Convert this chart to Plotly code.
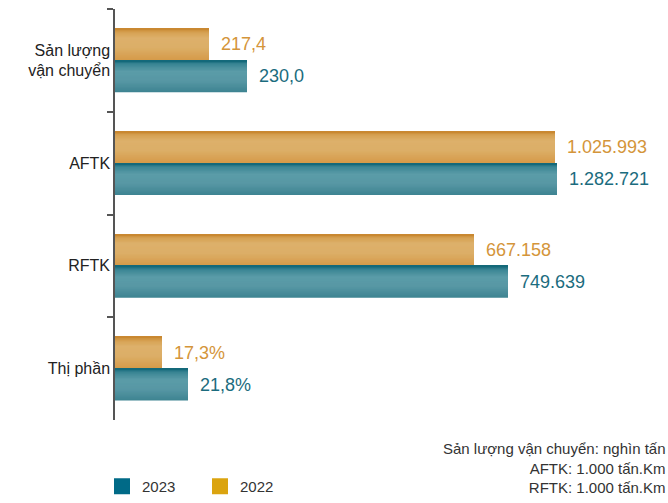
import plotly.graph_objects as go

# categories (top to bottom)
categories = ["Sản lượng<br>vận chuyển", "AFTK", "RFTK", "Thị phần"]

# bar lengths as drawn in the chart (relative display length, not to scale with values)
len_2022 = [94, 440, 359, 47]
len_2023 = [132, 442, 393, 73]

# value labels
labels_2022 = ["217,4", "1.025.993", "667.158", "17,3%"]
labels_2023 = ["230,0", "1.282.721", "749.639", "21,8%"]

units_note = ["Sản lượng vận chuyển: nghìn tấn", "AFTK: 1.000 tấn.Km", "RFTK: 1.000 tấn.Km"]

FONT = "Liberation Sans, Arial, sans-serif"
BAR_H = 0.31  # in category units
STEPS = 24

# vertical gradient stops (position from top, colour)
grad_2022 = [(0.0, "#C6832A"), (0.12, "#D6A152"), (0.3, "#DDB06B"), (0.6, "#DCAE67"), (1.0, "#D59A48")]
grad_2023 = [(0.0, "#0C6375"), (0.12, "#3A8594"), (0.35, "#5B9CA8"), (0.65, "#5797A4"), (1.0, "#3E8391")]


def color_at(stops, t):
    for (p0, c0), (p1, c1) in zip(stops, stops[1:]):
        if p0 <= t <= p1:
            f = (t - p0) / (p1 - p0)
            a = [int(c0[i:i + 2], 16) for i in (1, 3, 5)]
            b = [int(c1[i:i + 2], 16) for i in (1, 3, 5)]
            return "rgb(%d,%d,%d)" % tuple(round(x + (y - x) * f) for x, y in zip(a, b))
    return stops[-1][1]


fig = go.Figure()


def add_gradient_bars(lengths, texts, stops, offset, text_color):
    # nested layers all anchored at the bar top, each one shorter, so no seams
    for k in range(STEPS):
        t = (STEPS - 1 - k + 0.5) / STEPS
        w = BAR_H * (STEPS - k) / STEPS
        fig.add_trace(go.Bar(
            y=categories, x=lengths, orientation="h",
            width=w, offset=offset,
            marker=dict(color=color_at(stops, t), line=dict(width=0)),
            showlegend=False, hoverinfo="skip",
        ))
    # invisible bar carrying the label, nudged right for the gap
    fig.add_trace(go.Bar(
        y=categories, x=lengths, orientation="h", base=9,
        width=BAR_H, offset=offset,
        marker=dict(color="rgba(0,0,0,0)", line=dict(width=0)),
        text=texts, textposition="outside", cliponaxis=False,
        textfont=dict(family=FONT, size=18, color=text_color),
        showlegend=False, hoverinfo="skip",
    ))


add_gradient_bars(len_2022, labels_2022, grad_2022, -BAR_H, "#D4953A")
add_gradient_bars(len_2023, labels_2023, grad_2023, 0, "#1B6C7E")

# legend entries
fig.add_trace(go.Scatter(x=[None], y=[None], mode="markers", name="2023",
                         marker=dict(symbol="square", size=20, color="#006A87")))
fig.add_trace(go.Scatter(x=[None], y=[None], mode="markers", name="2022",
                         marker=dict(symbol="square", size=20, color="#DBA40F")))

fig.update_layout(
    width=668, height=503,
    margin=dict(l=115, r=0, t=9, b=73),
    barmode="overlay",
    plot_bgcolor="white", paper_bgcolor="white",
    font=dict(family=FONT, size=16, color="#222222"),
    showlegend=True,
    legend=dict(orientation="h", x=-0.0235, xanchor="left", y=-0.162, yanchor="middle",
                font=dict(family=FONT, size=15, color="#333333"),
                entrywidth=53, entrywidthmode="pixels", itemsizing="trace",
                bgcolor="rgba(0,0,0,0)"),
    xaxis=dict(range=[0, 553], visible=False, fixedrange=True),
    yaxis=dict(
        type="category", categoryorder="array", categoryarray=categories,
        range=[3.5, -0.5],
        showline=True, linecolor="#555555", linewidth=1.5,
        ticks="outside", tickson="boundaries", ticklen=6, tickwidth=1.5, tickcolor="#555555",
        showgrid=False, zeroline=False,
        tickfont=dict(family=FONT, size=16, color="#222222"),
    ),
    annotations=[dict(
        text="<br>".join(units_note), xref="paper", yref="paper",
        x=1, y=-0.044, xanchor="right", yanchor="top", align="right", showarrow=False,
        font=dict(family=FONT, size=15, color="#333333"),
    )],
)

# drop the default page margin so the 668x503 figure fills the window exactly
fig.write_html("out.html", config={"displayModeBar": False},
               post_script="document.body.style.margin='0';document.body.style.overflow='hidden';")
